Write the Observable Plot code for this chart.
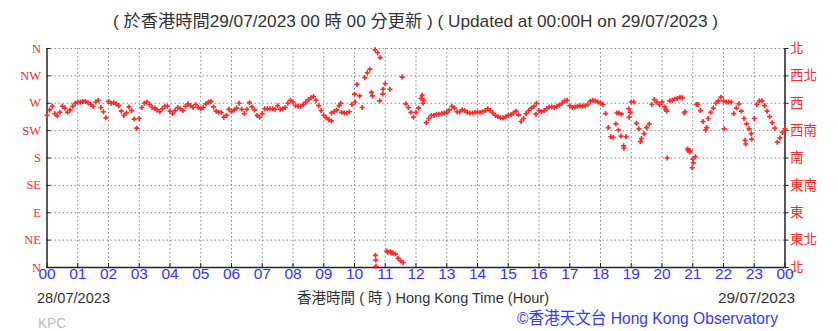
<!DOCTYPE html>
<html><head><meta charset="utf-8">
<script src="https://cdn.jsdelivr.net/npm/d3@7"></script>
<script src="https://cdn.jsdelivr.net/npm/@observablehq/plot@0.6"></script>
<style>
body{margin:0;background:#fff;}
#wrap{position:relative;width:838px;height:331px;overflow:hidden;}
#wrap svg{position:absolute;left:0;top:0;}
.t{position:absolute;white-space:nowrap;line-height:1;transform-origin:0 50%;font-family:"Liberation Sans Narrow","Liberation Sans","Noto Sans CJK TC",sans-serif;}
</style></head><body><div id="wrap"></div>
<script>
// ---- tick labels ----
const hourLabels = ["00","01","02","03","04","05","06","07","08","09","10","11","12","13","14","15","16","17","18","19","20","21","22","23","00"];
const directionTicks = [0,45,90,135,180,225,270,315,360];
const compassLabels = ["N","NE","E","SE","S","SW","W","NW","N"];
const chineseLabels = ["北","東北","東","東南","南","西南","西","西北","北"];

// ---- wind direction (degrees), every 5 minutes from 00:00 to 24:00 ----
const directionEvery5Min = [
  250,259,265,253,249,255,265,262,255,259,265,270, // 00
  272,272,273,273,271,268,265,272,275,263,256,246, // 01
  273,270,271,269,266,257,250,254,264,258,244,229, // 02
  245,263,270,272,268,263,262,259,256,261,265,265, // 03
  257,253,258,263,261,258,265,269,266,263,268,263, // 04
  261,263,269,272,273,264,257,255,255,247,250,260, // 05
  256,259,262,270,260,253,260,271,264,259,250,247, // 06
  253,261,261,261,261,260,266,260,261,263,270,275, // 07
  272,266,265,265,268,272,276,279,281,275,266,258, // 08
  250,246,243,254,256,259,266,255,254,254,256,268, // 09
  285,301,282,263,312,320,326,282,358,353,345,285, // 10
  302,25,26,24,22,15,11,8,269,263,255,247,         // 11
  255,262,278,275,238,245,250,250,252,252,253,254, // 12
  255,259,265,262,256,256,259,258,255,254,254,255, // 13
  255,255,256,258,261,258,254,250,248,246,246,248, // 14
  250,251,254,257,251,240,245,253,258,262,265,270, // 15
  258,256,258,261,264,264,263,265,267,270,274,275, // 16
  266,263,264,265,266,265,266,268,273,275,274,272, // 17
  270,268,253,230,215,214,236,226,216,200,215,261, // 18
  272,272,237,228,212,220,230,236,268,276,272,268, // 19
  272,264,180,274,275,277,278,280,279,256,195,192, // 20
  178,182,268,258,240,226,245,255,262,270,274,280, // 21
  274,272,272,272,253,262,269,257,245,236,228,211, // 22
  245,268,274,274,266,257,248,238,229,206,213,222, // 23
  228                                              // 24
];
// ---- additional scattered readings (hour, degrees) ----
const extraHours      = [9.25,9.55,10.02,10.55,10.68,10.69,10.70,10.82,10.93,11.05,11.15,11.20,11.55,12.20,12.23,15.90,18.53,18.60,18.68,18.76,18.93,18.97,19.30,20.12,20.15,20.72,20.85,20.90,20.98,21.02,21.12,21.45,22.02,22.70,22.72,22.90];
const extraDirections = [241, 270, 272, 288, 20, 12, 2, 274, 293, 27, 293, 24, 313, 283, 270, 252, 254, 254, 252, 196, 247, 255, 207, 260, 257, 254, 192, 190, 164, 172, 268, 230, 228, 209, 203, 220];

const points = directionEvery5Min.map((d, i) => ({h: i / 12, d}))
  .concat(extraHours.map((h, i) => ({h, d: extraDirections[i]})));

const hourValues = hourLabels.map((_, i) => i);
const innerHours = hourValues.slice(1, -1);
const gridDirections = directionTicks.slice(1);

const W = 838, H = 331;
const mL = 46.5, mR = 53.5, mT = 48, mB = 64;
const plotW = W - mL - mR, plotH = H - mT - mB;
const red = "#ff2b2b";
const grid = {stroke: "#8a8a8a", strokeDasharray: "1.6,2.4", strokeWidth: 1};

const chart = Plot.plot({
  width: W, height: H,
  marginLeft: mL, marginRight: mR, marginTop: mT, marginBottom: mB,
  x: {domain: [0, 24], axis: null},
  y: {domain: [0, 360], axis: null},
  style: {background: "transparent", overflow: "visible"},
  marks: [
    Plot.ruleX(innerHours, {...grid}),
    Plot.ruleY(gridDirections, {...grid}),
    Plot.ruleX([0], {stroke: "#222", strokeWidth: 1.5}),
    Plot.ruleX([24], {stroke: "#222", strokeWidth: 1.5}),
    Plot.ruleY([0], {stroke: "#222", strokeWidth: 1.5}),
    Plot.tickY(directionTicks, {y: d => d, stroke: "#222", insetRight: plotW - 4}),
    Plot.tickY(directionTicks, {y: d => d, stroke: "#222", insetLeft: plotW - 4, dx: 4}),
    Plot.tickX(hourValues, {x: d => d, stroke: "#222", insetTop: plotH - 4}),
    Plot.dot(points, {x: "h", y: "d", symbol: "cross", r: 2.1, fill: red, stroke: "none"}),
    Plot.text(directionTicks, {y: d => d, text: (d, i) => compassLabels[i], frameAnchor: "left", textAnchor: "end", dx: -6,
      fill: red, fontSize: 12.5, fontFamily: "Liberation Serif, DejaVu Serif, serif"}),
    Plot.text(directionTicks, {y: d => d, text: (d, i) => chineseLabels[i], frameAnchor: "right", textAnchor: "start", dx: 5,
      fill: red, fontSize: 13.5, fontFamily: "Noto Sans CJK TC, sans-serif"}),
    Plot.text(hourValues, {x: d => d, text: (d, i) => hourLabels[i], frameAnchor: "bottom", lineAnchor: "top", dy: 0,
      fill: "#3535ff", fontSize: 15.5, fontFamily: "Liberation Sans Narrow, Liberation Sans, sans-serif"})
  ]
});
const wrap = document.getElementById("wrap");
wrap.appendChild(chart);

// ---- texts around the chart ----
const texts = [
  {s: "( 於香港時間29/07/2023 00 時 00 分更新 ) ( Updated at 00:00H on 29/07/2023 )", x: 113, w: 605, y: 21, size: 17, color: "#333"},
  {s: "28/07/2023", x: 37, w: 73, y: 297, size: 15, color: "#333"},
  {s: "香港時間 ( 時 ) Hong Kong Time (Hour)", x: 297, w: 252, y: 297, size: 15, color: "#333"},
  {s: "29/07/2023", x: 718, w: 77, y: 297, size: 15, color: "#333"},
  {s: "KPC", x: 38, w: 28, y: 322, size: 15, color: "#bdbdbd"},
  {s: "©香港天文台 Hong Kong Observatory", x: 517, w: 261, y: 318, size: 17, color: "#3a3aff"}
];
for (const t of texts) {
  const el = document.createElement("div");
  el.className = "t";
  el.textContent = t.s;
  el.style.fontSize = t.size + "px";
  el.style.color = t.color;
  el.style.left = t.x + "px";
  el.style.top = (t.y - t.size / 2) + "px";
  wrap.appendChild(el);
  const mw = el.getBoundingClientRect().width;
  el.style.transform = `scaleX(${t.w / mw})`;
}
</script></body></html>
